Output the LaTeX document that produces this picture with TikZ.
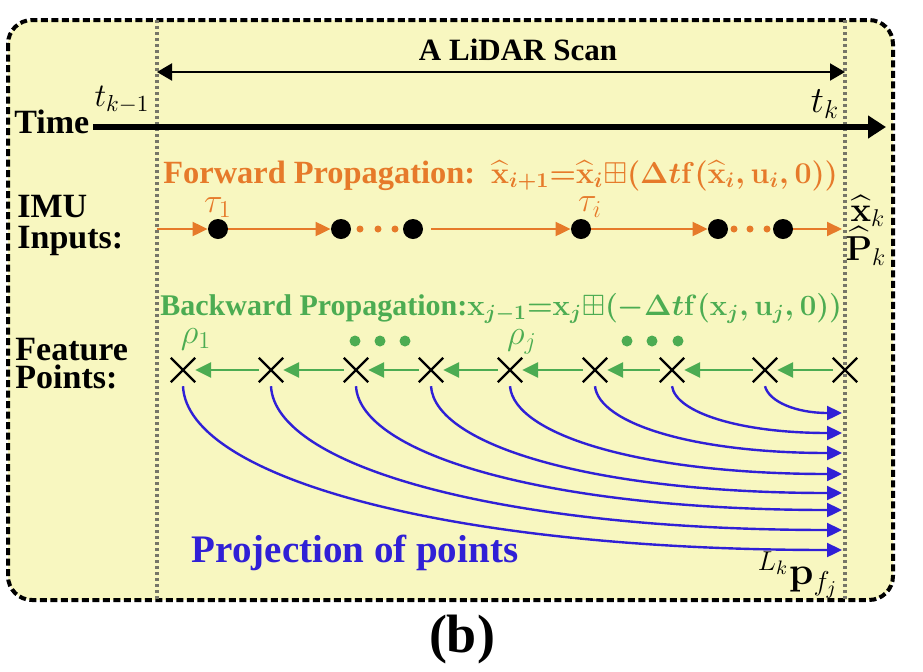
\RequirePackage{fix-cm}
\documentclass[tikz,border=0pt]{standalone}
\usepackage[no-math]{fontspec}
\setmainfont{Liberation Serif}
\usepackage{amsmath, amssymb}
\DeclareSymbolFont{operators}{OT1}{cmr}{m}{n}
\SetSymbolFont{operators}{bold}{OT1}{cmr}{bx}{n}
\DeclareMathAlphabet{\mathbf}{OT1}{cmr}{bx}{n}
\usetikzlibrary{arrows.meta, shapes.misc, positioning}
\definecolor{bgyellow}{RGB}{248, 247, 192}
\definecolor{fwdorange}{RGB}{230, 122, 42}
\definecolor{bwdgreen}{RGB}{76, 172, 82}
\definecolor{projblue}{RGB}{48, 32, 214}
\definecolor{scangray}{RGB}{118, 118, 104}
\newcommand{\fwdformula}{{\fontsize{15.1}{15.1}\selectfont$\boldsymbol{\widehat{\mathbf{x}}_{i+1}{=}\widehat{\mathbf{x}}_i{\boxplus}(\Delta t\mathbf{f}(\widehat{\mathbf{x}}_i,\mathbf{u}_i,\mathbf{0}))}$}}
\newcommand{\bwdformula}{{\fontsize{14.7}{14.7}\selectfont$\boldsymbol{\mathbf{x}_{j-1}{=}\mathbf{x}_j{\boxplus}(-\Delta t\mathbf{f}(\mathbf{x}_j,\mathbf{u}_j,\mathbf{0}))}$}}

\begin{document}
\begin{tikzpicture}[x=0.5pt, y=-0.5pt,
  lbl/.style={font=\fontsize{17}{17}\selectfont\bfseries, inner sep=0pt, anchor=base west},
  mlbl/.style={font=\fontsize{#1}{#1}\selectfont, inner sep=0pt},
  imudot/.style={circle, fill=black, minimum size=10pt, inner sep=0pt},
  smalldot/.style={circle, fill=#1, minimum size=3.5pt, inner sep=0pt},
  featpt/.style={draw, cross out, line width=1.2pt, minimum size=11pt, inner sep=0pt},
  fwd/.style={-{Triangle[length=7.5pt, width=7pt]}, fwdorange, line width=1pt},
  bwd/.style={-{Triangle[length=8pt, width=7.5pt]}, bwdgreen, line width=1.3pt},
  proj/.style={-{Triangle[length=7.5pt, width=7pt]}, projblue, line width=1.2pt},
  scanline/.style={scangray, line width=2pt, dash pattern=on 1.5pt off 1.5pt}
]
  \useasboundingbox (0,0) rectangle (923,671);

  % Frame
  \draw[line width=2pt, dash pattern=on 3.5pt off 1.75pt, rounded corners=12pt, fill=bgyellow] (8,20) rectangle (893,600);

  % Scan limits
  \coordinate (lt) at (157,20);
  \coordinate (lb) at (157,600);
  \coordinate (rt) at (845,20);
  \coordinate (rb) at (845,600);
  \draw[scanline] (lt) -- (lb);
  \draw[scanline] (rt) -- (rb);

  % LiDAR scan
  \node[font=\fontsize{15.5}{15.5}\selectfont\bfseries, inner sep=0pt] (scan) at (518,50) {A LiDAR Scan};
  \coordinate (sl) at (157,72);
  \coordinate (sr) at (845,72);
  \draw[{Triangle[length=7.5pt, width=8.5pt]}-{Triangle[length=7.5pt, width=8.5pt]}, line width=1pt] (sl) -- (sr);

  % Time axis
  \node[lbl] (time) at (14,133) {Time};
  \node[mlbl=16.5] (tkm) at (122,100) {$t_{k-1}$};
  \node[mlbl=18.5] (tk) at (825,104) {$t_k$};
  \coordinate (tstart) at (93,127);
  \coordinate (tend) at (886,127);
  \draw[-{Triangle[length=9pt, width=11pt]}, line width=3pt] (tstart) -- (tend);

  % IMU inputs
  \node[lbl] (imu) at (17,217) {IMU};
  \node[lbl] (inputs) at (17,248) {Inputs:};
  \node[font=\fontsize{16.2}{16.2}\selectfont\bfseries, text=fwdorange, inner sep=0pt, anchor=base west] (fwdeq) at (163,183) {Forward Propagation:\hspace{8pt}\fwdformula};
  \foreach \i/\x in {1/218, 2/341, 3/413, 4/581, 5/718, 6/783}
    \node[imudot] (d\i) at (\x,229) {};
  \foreach \x in {360, 378, 395, 734, 750, 767}
    \node[smalldot=fwdorange] at (\x,229) {};
  \coordinate (istart) at (157,229);
  \coordinate (iend) at (842,229);
  \draw[fwd] (istart) -- (d1);
  \draw[fwd] (d1) -- (d2);
  \draw[fwd, shorten <=4pt] (d3) -- (d4);
  \draw[fwd] (d4) -- (d5);
  \draw[fwd] (d6) -- (iend);
  \node[mlbl=17.3, text=fwdorange, above=0.5pt of d1] (tau1) {$\tau_1$};
  \node[mlbl=17.3, text=fwdorange] (taui) at (590,207) {$\tau_i$};
  \node[mlbl=17.3] (xk) at (868,211) {$\widehat{\mathbf{x}}_k$};
  \node[mlbl=17.3] (pk) at (866,246) {$\widehat{\mathbf{P}}_k$};

  % Feature points
  \node[lbl] (feature) at (15,360) {Feature};
  \node[lbl] (points) at (15,388) {Points:};
  \node[font=\fontsize{15}{15}\selectfont\bfseries, text=bwdgreen, inner sep=0pt, anchor=base west] (bwdeq) at (160,315) {Backward Propagation:\bwdformula};
  \foreach \i/\x in {1/183, 2/271, 3/356, 4/431, 5/510, 6/595, 7/672, 8/765, 9/845}
    \node[featpt] (c\i) at (\x,370) {};
  \foreach \i/\j in {2/1, 3/2, 4/3, 5/4, 6/5, 7/6, 8/7, 9/8}
    \draw[bwd] (c\i) -- (c\j);
  \foreach \x in {355, 380, 405, 627, 652, 678}
    \node[smalldot=bwdgreen, minimum size=5.5pt] at (\x,341) {};
  \node[mlbl=17.3, text=bwdgreen] (rho1) at (196,339) {$\rho_1$};
  \node[mlbl=17.3, text=bwdgreen] (rhoj) at (522,342) {$\rho_j$};

  % Projection of points
  \foreach \i/\xs/\ye in {1/183/550, 2/271/530, 3/356/510, 4/431/493, 5/510/474, 6/595/453, 7/672/433, 8/765/413} {
    \coordinate (e\i) at (842,\ye);
    \draw[proj] ([yshift=-2pt]c\i.south) .. controls +(4,{0.55*(\ye-385)}) and +({-0.6*(842-\xs)},0) .. (e\i);
  }
  \node[font=\fontsize{19.5}{19.5}\selectfont\bfseries, text=projblue, inner sep=0pt] (projtxt) at (355,553) {Projection of points};
  \node[mlbl=19.5] (lkp) at (798,575) {${}^{L_k}\mathbf{p}_{f_j}$};

  % Caption
  \node[font=\fontsize{27}{27}\selectfont\bfseries, inner sep=0pt] (cap) at (462,640) {(b)};
\end{tikzpicture}
\end{document}
